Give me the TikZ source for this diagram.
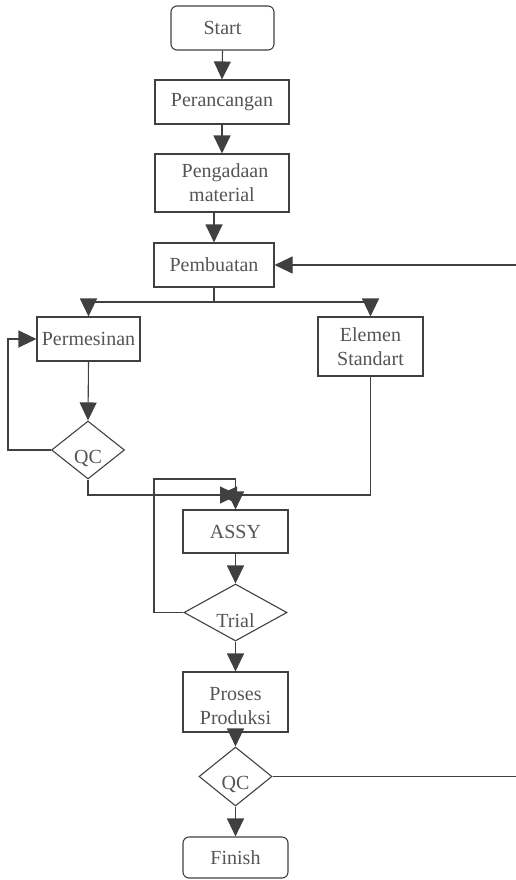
\documentclass[tikz,border=0pt]{standalone}
\usepackage{fontspec}
\setmainfont{Liberation Serif}
\usetikzlibrary{arrows.meta,shapes.geometric,calc}
\definecolor{ln}{HTML}{404040}
\definecolor{tx}{HTML}{555555}
\begin{document}
\begin{tikzpicture}[x=1pt,y=1pt,
  every node/.style={font=\fontsize{20}{24}\selectfont, text=tx},
  box/.style={draw=ln, line width=1.1pt, rectangle, inner sep=0pt, align=center},
  rbox/.style={box, rounded corners=6pt},
  dia/.style={draw=ln, line width=1.1pt, diamond, inner sep=0pt, aspect=1},
  con/.style={draw=ln, line width=1.1pt},
  arr/.style={con, -{Triangle[width=17pt,length=18pt]}}]
\useasboundingbox (0,0) rectangle (516,-880);
% nodes
\node[rbox, minimum width=103pt, minimum height=44pt] (start) at (222.5,-28) {Start};
\node[box, minimum width=134pt, minimum height=44pt] (peran) at (222,-102) {Perancangan};
\node[box, minimum width=134pt, minimum height=58pt] (pengad) at (222,-183) {\hspace*{6pt}Pengadaan\\material};
\node[box, minimum width=120pt, minimum height=44pt] (pemb) at (214,-265) {Pembuatan};
\node[box, minimum width=103pt, minimum height=44pt] (permes) at (88.5,-339) {Permesinan};
\node[box, minimum width=105pt, minimum height=59pt] (elemen) at (370.5,-346.5) {Elemen\\Standart};
\node[dia, minimum width=73pt, minimum height=58pt, label={[yshift=-8pt]center:QC}] (qc1) at (88,-450) {};
\node[box, minimum width=105pt, minimum height=43pt] (assy) at (235.5,-531.5) {ASSY};
\node[dia, minimum width=103pt, minimum height=57pt, label={[yshift=-8pt]center:Trial}] (trial) at (235.5,-612.5) {};
\node[box, minimum width=105pt, minimum height=60pt] (proses) at (235.5,-702) {};
\node[align=center, inner sep=0pt] (prosestxt) at (235.5,-706) {Proses\\Produksi};
\node[dia, minimum width=73pt, minimum height=59pt, label={[yshift=-8pt]center:QC}] (qc2) at (235.5,-776.5) {};
\node[rbox, minimum width=105pt, minimum height=41pt] (finish) at (235.5,-857.5) {Finish};
% helper coordinates
\coordinate (split) at (214,-302);
\coordinate (joinL) at (238,-495);
\coordinate (joinR) at (219,-495);
\coordinate (loopTop) at (154,-479);
\coordinate (retTop) at (522,-265);
\coordinate (retBot) at (522,-776.5);
\coordinate (leftx) at (8,-450);
% connectors
\draw[arr] (start.south) -- (peran.north);
\draw[arr] (peran.south) -- (pengad.north -| peran.south);
\draw[arr] (pemb.north |- pengad.south) -- (pemb.north);
\draw[con] (pemb.south) -- (split);
\draw[arr] (split) -| (permes.north);
\draw[arr] (split) -| (elemen.north);
\draw[arr] (permes.south) -- (qc1.north);
\draw[arr] (qc1.west) -- (leftx) |- (permes.west);
\draw[arr] (qc1.south) |- (joinL);
\draw[arr] (elemen.south) |- (joinR);
\draw[arr] (trial.west) -| (loopTop) -| (assy.north);
\draw[arr] (assy.south) -- (trial.north);
\draw[arr] (trial.south) -- (proses.north);
\draw[arr] (proses.south) -- (qc2.north);
\draw[arr] (qc2.south) -- (finish.north);
\draw[arr] (qc2.east) -- (retBot) -- (retTop) -- (pemb.east);
\end{tikzpicture}
\end{document}
